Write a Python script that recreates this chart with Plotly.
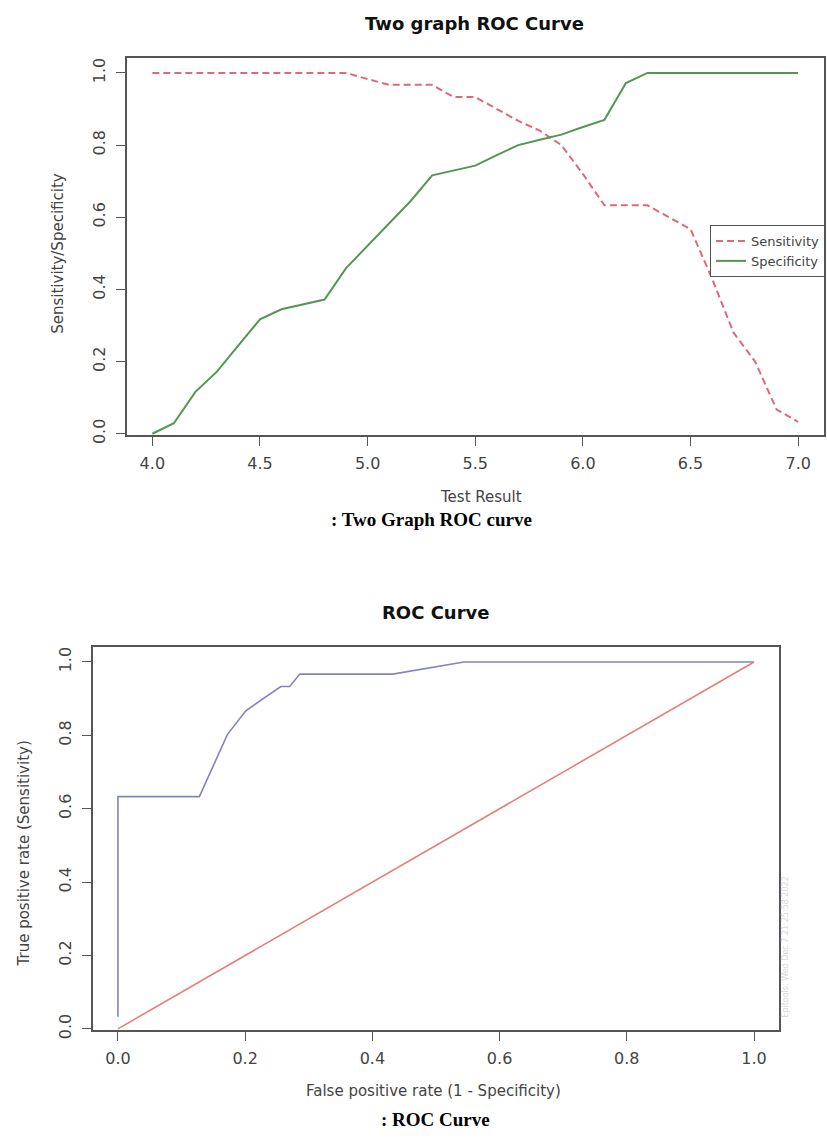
import plotly.graph_objects as go

# ---------------- data: Two graph ROC curve ----------------
test_result = [4.0, 4.1, 4.2, 4.3, 4.4, 4.5, 4.6, 4.7, 4.8, 4.9, 5.0, 5.1, 5.2, 5.3, 5.4, 5.5,
               5.6, 5.7, 5.8, 5.9, 6.0, 6.1, 6.2, 6.3, 6.4, 6.5, 6.6, 6.7, 6.8, 6.9, 7.0]
sensitivity = [1.0, 1.0, 1.0, 1.0, 1.0, 1.0, 1.0, 1.0, 1.0, 1.0, 0.983, 0.967, 0.967, 0.967, 0.933, 0.933,
               0.90, 0.867, 0.84, 0.80, 0.72, 0.633, 0.633, 0.633, 0.60, 0.567, 0.43, 0.28, 0.20, 0.067, 0.033]
specificity = [0.0, 0.029, 0.116, 0.172, 0.245, 0.317, 0.345, 0.359, 0.372, 0.459, 0.521, 0.581, 0.645, 0.716,
               0.729, 0.743, 0.772, 0.80, 0.815, 0.829, 0.85, 0.87, 0.972, 1.0, 1.0, 1.0, 1.0, 1.0, 1.0, 1.0, 1.0]

# ---------------- data: ROC curve ----------------
fpr = [0.0, 0.0, 0.128, 0.172, 0.201, 0.228, 0.256, 0.270, 0.286, 0.432, 0.544, 1.0]
tpr = [0.033, 0.633, 0.633, 0.802, 0.867, 0.90, 0.933, 0.933, 0.967, 0.967, 1.0, 1.0]
diag_x = [0.0, 1.0]
diag_y = [0.0, 1.0]

x1_ticks = [4.0, 4.5, 5.0, 5.5, 6.0, 6.5, 7.0]
x1_ticklabels = ["4.0", "4.5", "5.0", "5.5", "6.0", "6.5", "7.0"]
y_ticks = [0.0, 0.2, 0.4, 0.6, 0.8, 1.0]
y_ticklabels = ["0.0", "0.2", "0.4", "0.6", "0.8", "1.0"]
x2_ticks = [0.0, 0.2, 0.4, 0.6, 0.8, 1.0]
x2_ticklabels = ["0.0", "0.2", "0.4", "0.6", "0.8", "1.0"]

W, H = 827, 1146
def px_x(p):
    return p / W
def px_y(p):
    return 1 - p / H

fig = go.Figure()

fig.add_trace(go.Scatter(x=test_result, y=sensitivity, mode="lines", name="Sensitivity",
                         line=dict(color="#dd6b75", width=2, dash="7px,4px"),
                         xaxis="x", yaxis="y"))
fig.add_trace(go.Scatter(x=test_result, y=specificity, mode="lines", name="Specificity",
                         line=dict(color="#559655", width=2),
                         xaxis="x", yaxis="y"))
fig.add_trace(go.Scatter(x=fpr, y=tpr, mode="lines", showlegend=False,
                         line=dict(color="#8383c4", width=1.6),
                         xaxis="x2", yaxis="y2"))
fig.add_trace(go.Scatter(x=diag_x, y=diag_y, mode="lines", showlegend=False,
                         line=dict(color="#e57f7a", width=1.6),
                         xaxis="x2", yaxis="y2"))

tickfont = dict(family="DejaVu Sans", size=16, color="#444444")
axis_common = dict(showline=True, mirror=True, linecolor="#555555", linewidth=1.5,
                   ticks="outside", ticklen=9, tickwidth=1.3, tickcolor="#555555",
                   showgrid=False, zeroline=False, tickfont=tickfont, fixedrange=True)

fig.update_layout(
    width=W, height=H,
    margin=dict(l=0, r=0, t=0, b=0),
    paper_bgcolor="white", plot_bgcolor="white",
    showlegend=True,
    legend=dict(x=px_x(825), y=px_y(226), xanchor="right", yanchor="top",
                bgcolor="white", bordercolor="#555555", borderwidth=1,
                font=dict(family="DejaVu Sans", size=13, color="#444444"),
                tracegroupgap=0, itemwidth=30),
    xaxis=dict(domain=[px_x(126.5), px_x(824)], range=[3.88, 7.12],
               tickvals=x1_ticks, ticktext=x1_ticklabels, anchor="y",
               ticklabelstandoff=4, **axis_common),
    yaxis=dict(domain=[px_y(438), px_y(58)], range=[-0.004, 1.04],
               tickvals=y_ticks, ticktext=y_ticklabels, tickangle=-90, anchor="x",
               ticklabelstandoff=4, **axis_common),
    xaxis2=dict(domain=[px_x(92.5), px_x(778.5)], range=[-0.04, 1.0385],
                tickvals=x2_ticks, ticktext=x2_ticklabels, anchor="y2",
                ticklabelstandoff=4, **axis_common),
    yaxis2=dict(domain=[px_y(1038), px_y(652)], range=[-0.003, 1.04],
                tickvals=y_ticks, ticktext=y_ticklabels, tickangle=-90, anchor="x2",
                ticklabelstandoff=4, **axis_common),
)

title_font = dict(family="DejaVu Sans", size=18, color="#111111")
label_font = dict(family="DejaVu Sans", size=15, color="#444444")
caption_font = dict(family="Liberation Serif", size=19, color="#000000")

annotations = [
    dict(text="<b>Two graph ROC Curve</b>", x=px_x(474), y=px_y(23), font=title_font),
    dict(text="Test Result", x=px_x(481), y=px_y(500), font=label_font),
    dict(text="Sensitivity/Specificity", x=px_x(58), y=px_y(255), textangle=-90, font=label_font),
    dict(text="<b>: Two Graph ROC curve</b>", x=px_x(431), y=px_y(523), font=caption_font),
    dict(text="<b>ROC Curve</b>", x=px_x(435), y=px_y(617), font=title_font),
    dict(text="False positive rate (1 - Specificity)", x=px_x(433), y=px_y(1100), font=label_font),
    dict(text="True positive rate (Sensitivity)", x=px_x(24), y=px_y(860), textangle=-90, font=label_font),
    dict(text="<b>: ROC Curve</b>", x=px_x(436), y=px_y(1128), font=caption_font),
    dict(text="Epitools: Wed Dec 7 21:25:58 2022", x=px_x(786), y=px_y(955), textangle=-90,
         font=dict(family="DejaVu Sans", size=8, color="#d8d8d8")),
]
for a in annotations:
    a.update(xref="paper", yref="paper", showarrow=False, xanchor="center", yanchor="middle")
fig.update_layout(annotations=annotations)

fig.write_html("out.html", config={"displayModeBar": False},
               post_script="document.body.style.margin='0';document.body.style.overflow='hidden';")
